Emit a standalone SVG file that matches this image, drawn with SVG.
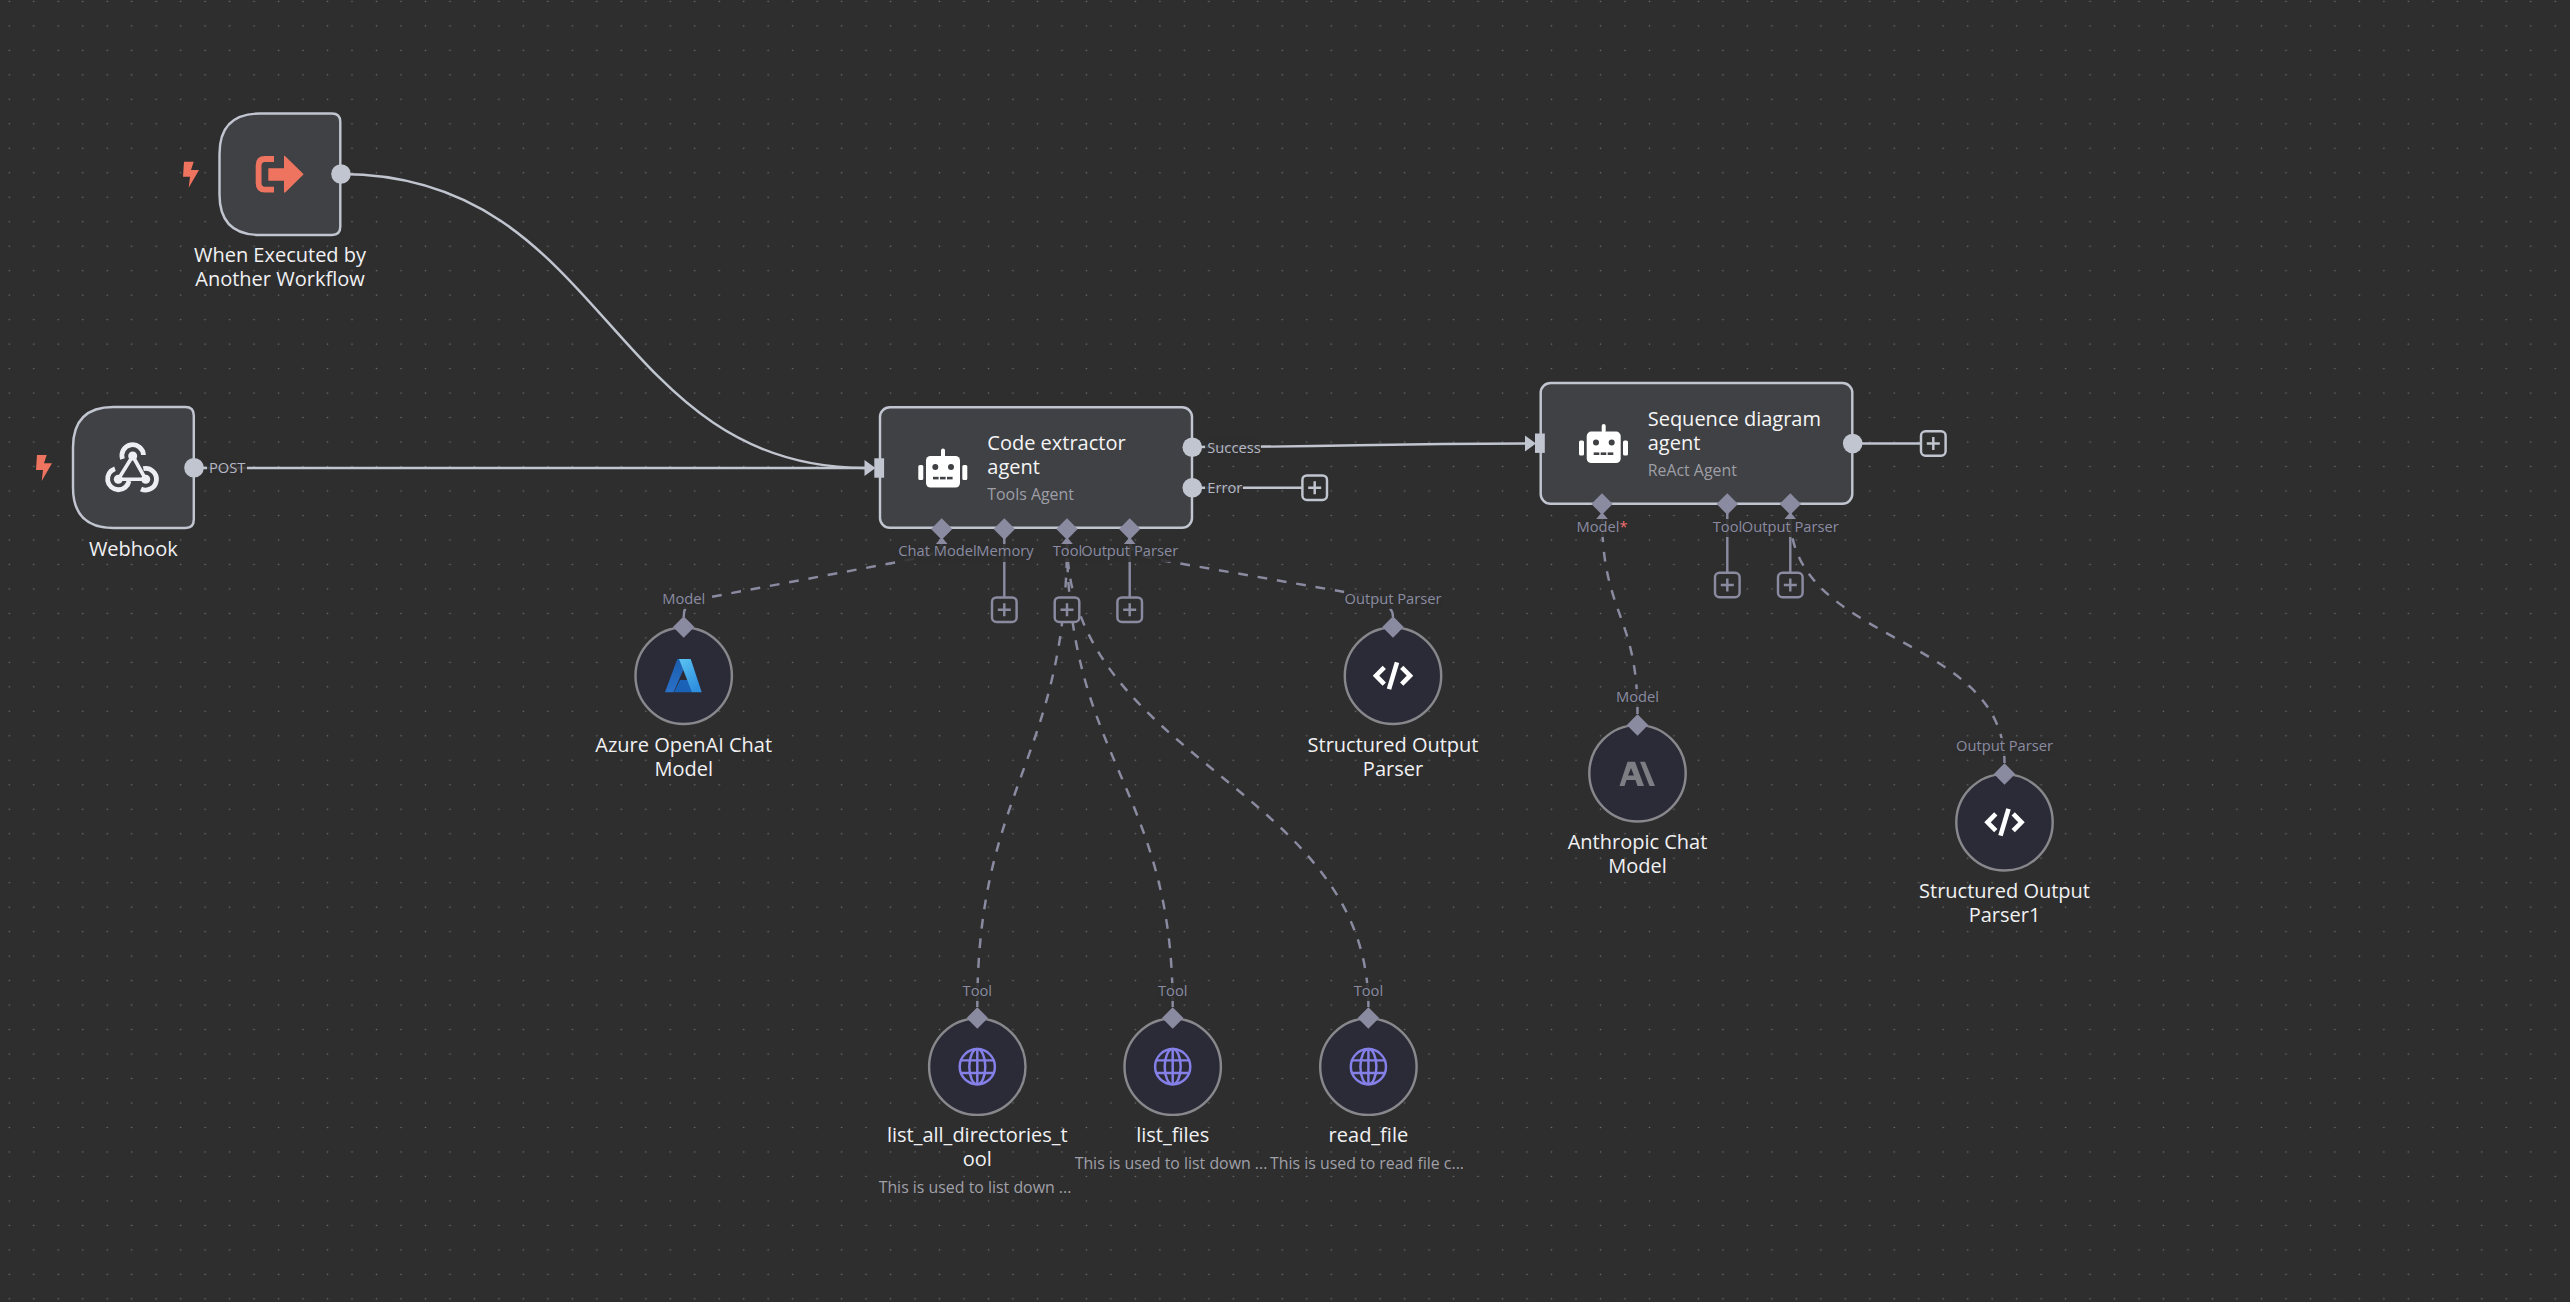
<svg xmlns="http://www.w3.org/2000/svg" width="2570" height="1302" viewBox="0 0 2570 1302">
<style>
text{font-family:"Open Sans","Noto Sans","Liberation Sans",sans-serif}
.nd{fill:#404144;stroke:#c1c5d0;stroke-width:2.45}
.cfg{fill:#2b2b38;stroke:#87878c;stroke-width:2.45}
.t{font-size:20px;font-weight:500;fill:#f1f1f3;text-anchor:middle}
.t2{font-size:20px;font-weight:500;fill:#f5f5f6}
.s{font-size:15.9px;fill:#9e9ea6}
.d{font-size:15.9px;fill:#a0a0a8;text-anchor:middle}
.p{font-size:14.7px;fill:#8a8ba1;text-anchor:middle}
.o{font-size:14.7px;fill:#b5b8c4}
.lb{fill:#2e2e2e;fill-opacity:.88}
.main{fill:none;stroke:#c1c5d0;stroke-width:2.45}
.dash{fill:none;stroke:#8a8ba1;stroke-width:2.45;stroke-dasharray:9.8 9.8}
.stem{fill:none;stroke:#8a8ba1;stroke-width:2.45}
.port{fill:#8a8ba1}
.dot{fill:#c1c5d0}
.bolt{fill:#ee7460}
.plusA{fill:#2e2e2e;stroke:#c1c5d0;stroke-width:2.45}
.plusB{fill:#2e2e2e;stroke:#8a8ba1;stroke-width:2.45}
</style>
<defs>
<pattern id="grid" patternUnits="userSpaceOnUse" x="-2.94" y="-10.84" width="24.48" height="24.48"><circle cx="12.24" cy="12.24" r="0.8" fill="#6e6e6e"/></pattern>
<linearGradient id="azL" x1="0" y1="0" x2="0" y2="1"><stop offset="0" stop-color="#1b5fae"/><stop offset="1" stop-color="#2a70c8"/></linearGradient>
<linearGradient id="azR" x1="0" y1="0" x2="0.6" y2="1"><stop offset="0" stop-color="#5bc4f1"/><stop offset="1" stop-color="#2f8fdf"/></linearGradient>
<g id="robot" fill="#fff">
<rect x="-16.7" y="-12" width="34" height="31.5" rx="4.5"/>
<rect x="-1.7" y="-19.5" width="4" height="9" rx="2"/>
<rect x="-24.4" y="-3" width="5" height="15" rx="1.5"/>
<rect x="19.6" y="-3" width="5" height="15" rx="1.5"/>
<circle cx="-7.4" cy="-1" r="3" fill="#404144"/><circle cx="8.3" cy="-1" r="3" fill="#404144"/>
<rect x="-9.7" y="8.8" width="5.6" height="2.6" fill="#404144"/><rect x="-2.7" y="8.8" width="5.6" height="2.6" fill="#404144"/><rect x="4.3" y="8.8" width="5.6" height="2.6" fill="#404144"/>
</g>
<g id="code" fill="none" stroke="#fff" stroke-width="4.6">
<path d="M-8.7 -8.4L-17 0L-8.7 8.4M8.7 -8.4L17 0L8.7 8.4"/><path d="M4 -13.4L-4 13.4"/>
</g>
<g id="globe" fill="none" stroke="#8580e8" stroke-width="2.45">
<circle r="17.6"/><ellipse rx="8" ry="17.6"/><path d="M0 -17.6V17.6M-15.8 -6.3H15.8M-15.8 6.3H15.8"/>
</g>
<path id="bolt" d="M184 161.7H193.7L191 170H199L188.7 187.7L190 176.7H183Z"/>
<g id="plus" fill="none" stroke-width="2.45"><path d="M-6.5 0H6.5M0 -6.5V6.5"/></g>
</defs>
<rect width="2570" height="1302" fill="#2e2e2e"/>
<rect width="2570" height="1302" fill="url(#grid)"/>

<g id="connectors">
<path class="main" d="M341 174C608 174 608 468 865 468"/>
<path class="main" d="M194 468H865"/>
<path class="main" d="M1192 447C1358 447 1358 443.5 1525 443.5"/>
<path class="main" d="M1192 487.7H1302"/>
<path class="main" d="M1853 443.5H1921"/>
<path class="stem" d="M1004.3 535V597M1129.7 535V597M1727.3 510V572M1790.3 510V572"/>
<path class="dash" d="M683.7 617C683.7 606 688 602 700 599L908 560C930 555.6 941.7 553 941.7 540"/>
<path class="dash" d="M1393 617C1393 605 1380 599 1362 595L1160 560C1140 556.500 1129.700 552 1129.700 540"/>
<path class="dash" d="M977.3 1007C977.3 787 1067 760 1067 540"/>
<path class="dash" d="M1172.7 1007C1172.7 787 1067 760 1067 540"/>
<path class="dash" d="M1368.4 1007C1368.4 787 1067 760 1067 540"/>
<path class="dash" d="M1637.5 714C1637.5 614 1602 615 1602 515"/>
<path class="dash" d="M2004.5 763C2004.5 633 1790 645 1790 515"/>
<path fill="#c1c5d0" d="M864.5 460L875.5 468L864.5 476Z"/>
<path fill="#c1c5d0" d="M1525 435.5L1536 443.5L1525 451.5Z"/>
</g>

<g id="trigger">
<path class="nd" d="M260 113.5H332Q340.3 113.5 340.3 122V226.5Q340.3 235 332 235H260Q219.5 235 219.5 194.5V154Q219.5 113.5 260 113.5Z"/>
<use href="#bolt" class="bolt"/>
<path fill="none" stroke="#ee7460" stroke-width="5.8" d="M274 159H265Q258.6 159 258.6 165.5V183Q258.6 189.7 265 189.7H274"/>
<path fill="#ee7460" d="M268.3 168.3H284V156.5Q284 155 286 157L303.7 174.3L286 191.7Q284 193.5 284 192V180.7H268.3Z"/>
<circle class="dot" cx="341" cy="174" r="9.8"/>
<text class="t" x="280" y="261.500">When Executed by</text>
<text class="t" x="280" y="286">Another Workflow</text>
</g>

<g id="webhook">
<path class="nd" d="M113.5 407H185.5Q193.8 407 193.8 415.500V519.500Q193.800 528 185.5 528H113.500Q73 528 73 487.500V447.500Q73 407 113.500 407Z"/>
<use href="#bolt" class="bolt" x="-147" y="293.300"/>
<g fill="none" stroke="#eceef3">
<path stroke-width="3.6" d="M132.700 456L145.700 479.300H118.300Z"/>
<g stroke-width="4.8">
<path d="M143.500 455A10.800 10.800 0 1 0 122.500 459"/>
<path d="M115 468.700A10.800 10.800 0 1 0 129 481"/>
<path d="M143.300 468.700A10.800 10.800 0 1 1 141 489"/>
</g>
</g>
<circle cx="132.700" cy="456" r="4.500" fill="#eceef3"/><circle cx="118.300" cy="479.300" r="4.500" fill="#eceef3"/><circle cx="145.700" cy="479.300" r="4.500" fill="#eceef3"/>
<circle class="dot" cx="194" cy="467.700" r="9.800"/>
<rect class="lb" x="207" y="459" width="40" height="18"/>
<text class="o" x="209" y="473.300">POST</text>
<text class="t" x="133.300" y="555.500">Webhook</text>
</g>

<g id="code-extractor">
<rect class="nd" x="880" y="407.300" width="312" height="120.400" rx="9.800"/>
<rect x="874.300" y="458.300" width="9.800" height="19.400" fill="#c1c5d0"/>
<use href="#robot" x="942.700" y="468"/>
<text class="t2" x="987.300" y="450">Code extractor</text>
<text class="t2" x="987.300" y="474.300">agent</text>
<text class="s" x="987.300" y="500.200">Tools Agent</text>
<circle class="dot" cx="1192.300" cy="447.300" r="9.800"/>
<circle class="dot" cx="1192.300" cy="487.700" r="9.800"/>
<rect class="lb" x="1205" y="438" width="56" height="18"/>
<rect class="lb" x="1205" y="479" width="38" height="18"/>
<text class="o" x="1207.300" y="452.700">Success</text>
<text class="o" x="1207.300" y="493.300">Error</text>
<g class="port">
<path d="M941.700 518.300L952.400 529L941.700 539.700L931 529Z"/><path d="M1004.300 518.300L1015 529L1004.300 539.700L993.600 529Z"/><path d="M1067 518.300L1077.700 529L1067 539.700L1056.300 529Z"/><path d="M1129.700 518.300L1140.400 529L1129.700 539.700L1119 529Z"/>
<path d="M941.700 537L947.500 544H935.900Z"/><path d="M1067 537L1072.800 544H1061.200Z"/><path d="M1129.700 537L1135.500 544H1123.900Z"/>
</g>
<rect class="lb" x="899" y="544" width="78" height="18"/><rect class="lb" x="977" y="544" width="56" height="18"/><rect class="lb" x="1053" y="544" width="28" height="18"/><rect class="lb" x="1081" y="544" width="97" height="18"/>
<text class="p" x="937.500" y="555.700">Chat Model</text>
<text class="p" x="1005" y="555.700">Memory</text>
<text class="p" x="1067.500" y="555.700">Tool</text>
<text class="p" x="1129.700" y="555.700">Output Parser</text>
<g stroke="#8a8ba1"><rect class="plusB" x="992" y="597.400" width="24.600" height="24.600" rx="4.500"/><use href="#plus" x="1004.300" y="609.700"/>
<rect class="plusB" x="1054.700" y="597.400" width="24.600" height="24.600" rx="4.500"/><use href="#plus" x="1067" y="609.700"/>
<rect class="plusB" x="1117.400" y="597.400" width="24.600" height="24.600" rx="4.500"/><use href="#plus" x="1129.700" y="609.700"/></g>
<g stroke="#c1c5d0"><rect class="plusA" x="1302.400" y="475.400" width="24.600" height="24.600" rx="4.500"/><use href="#plus" x="1314.700" y="487.700"/></g>
</g>

<g id="sequence-agent">
<rect class="nd" x="1540.700" y="383" width="311.600" height="120.700" rx="9.800"/>
<rect x="1535" y="433.500" width="9.800" height="19.400" fill="#c1c5d0"/>
<use href="#robot" x="1603.400" y="443.600"/>
<text class="t2" x="1647.700" y="425.600">Sequence diagram</text>
<text class="t2" x="1647.700" y="450">agent</text>
<text class="s" x="1647.700" y="475.800">ReAct Agent</text>
<circle class="dot" cx="1852.700" cy="443.500" r="9.800"/>
<g class="port">
<path d="M1602 493.300L1612.700 504L1602 514.700L1591.300 504Z"/><path d="M1727.300 493.300L1738 504L1727.300 514.700L1716.600 504Z"/><path d="M1790.300 493.300L1801 504L1790.300 514.700L1779.600 504Z"/>
<path d="M1602 512L1607.800 519H1596.200Z"/><path d="M1790.300 512L1796.100 519H1784.500Z"/>
</g>
<rect class="lb" x="1576" y="519" width="52" height="18"/><rect class="lb" x="1712" y="519" width="30" height="18"/><rect class="lb" x="1742" y="519" width="97" height="18"/>
<text class="p" x="1602" y="531.500">Model<tspan fill="#ef6f6f">*</tspan></text>
<text class="p" x="1727.500" y="531.500">Tool</text>
<text class="p" x="1790.300" y="531.500">Output Parser</text>
<g stroke="#8a8ba1"><rect class="plusB" x="1715" y="572.700" width="24.600" height="24.600" rx="4.500"/><use href="#plus" x="1727.300" y="585"/>
<rect class="plusB" x="1778" y="572.700" width="24.600" height="24.600" rx="4.500"/><use href="#plus" x="1790.300" y="585"/></g>
<g stroke="#c1c5d0"><rect class="plusA" x="1921" y="431.200" width="24.600" height="24.600" rx="4.500"/><use href="#plus" x="1933.300" y="443.500"/></g>
</g>

<g id="azure">
<circle class="cfg" cx="683.700" cy="675.700" r="48.200"/>
<path class="port" d="M683.700 616.300L694.400 627L683.700 637.700L673 627Z"/>
<path fill="url(#azL)" d="M677.300 659H688L673.500 692.300H665Z"/>
<path fill="#1a62b8" d="M680 680H688L693 692.300H674Z"/>
<path fill="url(#azR)" d="M679 659H690.700L701.700 692.300H692L679 659Z"/>
<rect class="lb" x="662" y="591" width="44" height="18"/>
<text class="p" x="683.700" y="604">Model</text>
<text class="t" x="683.700" y="751.500">Azure OpenAI Chat</text>
<text class="t" x="683.700" y="775.500">Model</text>
</g>

<g id="structured-parser">
<circle class="cfg" cx="1393" cy="675.700" r="48.200"/>
<path class="port" d="M1393 616.300L1403.700 627L1393 637.700L1382.300 627Z"/>
<use href="#code" x="1393" y="675.700"/>
<rect class="lb" x="1344" y="591" width="98" height="18"/>
<text class="p" x="1393" y="604">Output Parser</text>
<text class="t" x="1393" y="751.500">Structured Output</text>
<text class="t" x="1393" y="775.500">Parser</text>
</g>

<g id="list-all-dirs">
<circle class="cfg" cx="977.300" cy="1066.700" r="48.200"/>
<path class="port" d="M977.300 1007.300L988 1018L977.300 1028.700L966.600 1018Z"/>
<use href="#globe" x="977.300" y="1066.700"/>
<rect class="lb" x="962" y="983" width="30" height="18"/>
<text class="p" x="977.300" y="996">Tool</text>
<text class="t" x="977.300" y="1142">list_all_directories_t</text>
<text class="t" x="977.300" y="1166.400">ool</text>
<text class="d" x="975" y="1192.700">This is used to list down ...</text>
</g>

<g id="list-files">
<circle class="cfg" cx="1172.700" cy="1066.700" r="48.200"/>
<path class="port" d="M1172.700 1007.300L1183.400 1018L1172.700 1028.700L1162 1018Z"/>
<use href="#globe" x="1172.700" y="1066.700"/>
<rect class="lb" x="1157" y="983" width="30" height="18"/>
<text class="p" x="1172.700" y="996">Tool</text>
<text class="t" x="1172.700" y="1142">list_files</text>
<text class="d" x="1171" y="1168.700">This is used to list down ...</text>
</g>

<g id="read-file">
<circle class="cfg" cx="1368.400" cy="1066.700" r="48.200"/>
<path class="port" d="M1368.400 1007.300L1379.100 1018L1368.400 1028.700L1357.700 1018Z"/>
<use href="#globe" x="1368.400" y="1066.700"/>
<rect class="lb" x="1353" y="983" width="30" height="18"/>
<text class="p" x="1368.400" y="996">Tool</text>
<text class="t" x="1368.400" y="1142">read_file</text>
<text class="d" x="1367" y="1168.700">This is used to read file c...</text>
</g>

<g id="anthropic">
<circle class="cfg" cx="1637.500" cy="773.300" r="48.200"/>
<path class="port" d="M1637.500 714.300L1648.200 725L1637.500 735.700L1626.800 725Z"/>
<path fill="#7d7d84" fill-rule="evenodd" d="M1627.500 761.700H1635L1644 786H1637.500L1635.500 780H1626.500L1624.500 786H1619.500ZM1631 768L1628 775.500H1634Z"/>
<path fill="#7d7d84" d="M1640 761.700H1645L1655 786H1649.500Z"/>
<rect class="lb" x="1615" y="689" width="44" height="18"/>
<text class="p" x="1637.500" y="702">Model</text>
<text class="t" x="1637.500" y="848.500">Anthropic Chat</text>
<text class="t" x="1637.500" y="873">Model</text>
</g>

<g id="structured-parser1">
<circle class="cfg" cx="2004.500" cy="822.300" r="48.200"/>
<path class="port" d="M2004.500 763.300L2015.200 774L2004.500 784.700L1993.800 774Z"/>
<use href="#code" x="2004.500" y="822.300"/>
<rect class="lb" x="1955" y="738" width="98" height="18"/>
<text class="p" x="2004.500" y="751">Output Parser</text>
<text class="t" x="2004.500" y="897.500">Structured Output</text>
<text class="t" x="2004.500" y="922">Parser1</text>
</g>
</svg>
